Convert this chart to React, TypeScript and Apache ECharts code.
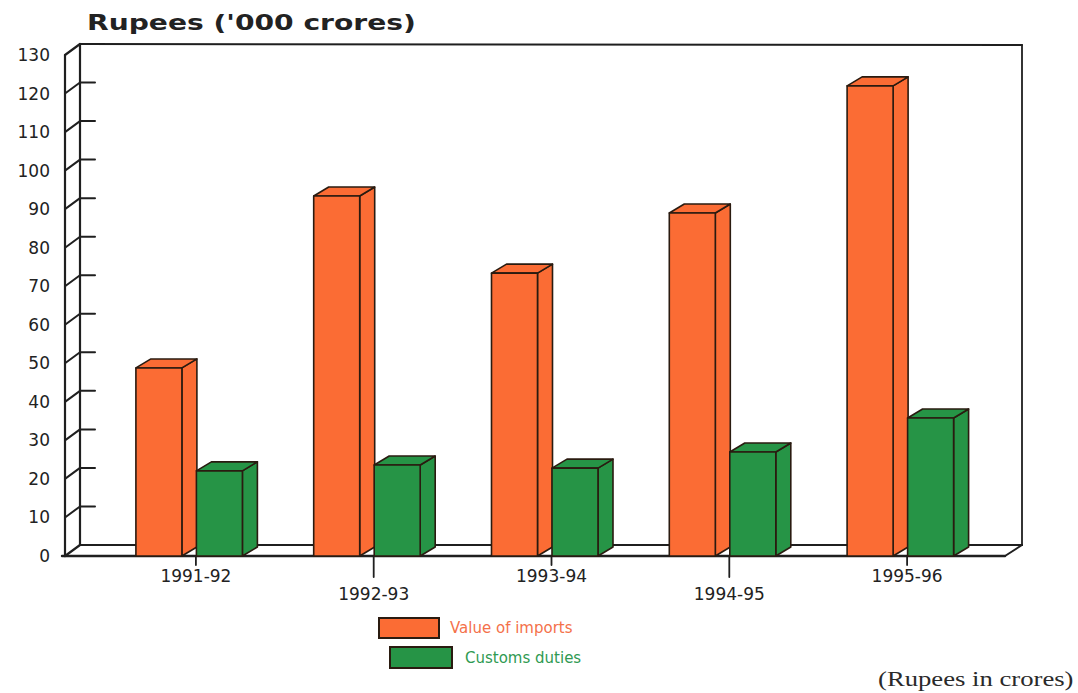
import React, { useEffect, useRef } from "react";
import * as echarts from "echarts";

// Fiscal years on the category axis
const years = ["1991-92", "1992-93", "1993-94", "1994-95", "1995-96"];
// Rupees, '000 crores
const importsValue = [48.8, 93.4, 73.4, 89.0, 122.0];
const customsDuties = [22.1, 23.6, 22.8, 27.0, 35.8];
const yTicks = [0, 10, 20, 30, 40, 50, 60, 70, 80, 90, 100, 110, 120, 130];

const ORANGE = "#fb6c34";
const GREEN = "#269446";
const EDGE = "#2a1b10";
const FRAME = "#1f1f1f";

// depth of the 3D effect (pixels)
const BAR_DX = 15;
const BAR_DY = -9;
const WALL_DX = 15;
const WALL_DY = -11;

function makeBarRenderer(offsetFrac: number, widthFrac: number, color: string) {
  return (params: any, api: any) => {
    const cat = api.value(0);
    const val = api.value(1);
    const base = api.coord([cat, 0]);
    const top = api.coord([cat, val]);
    const band = api.size([1, 0])[0];
    const x0 = base[0] + offsetFrac * band;
    const w = widthFrac * band;
    const yb = base[1];
    const yt = top[1];
    const style = { fill: color, stroke: EDGE, lineWidth: 1.6, lineJoin: "round" };
    return {
      type: "group",
      children: [
        {
          type: "polygon",
          shape: {
            points: [
              [x0 + w, yt],
              [x0 + w + BAR_DX, yt + BAR_DY],
              [x0 + w + BAR_DX, yb + BAR_DY],
              [x0 + w, yb],
            ],
          },
          style,
        },
        {
          type: "polygon",
          shape: {
            points: [
              [x0, yt],
              [x0 + BAR_DX, yt + BAR_DY],
              [x0 + w + BAR_DX, yt + BAR_DY],
              [x0 + w, yt],
            ],
          },
          style,
        },
        {
          type: "rect",
          shape: { x: x0, y: yt, width: w, height: yb - yt },
          style,
        },
      ],
    };
  };
}

// back wall, left wall, floor and tick marks of the 3D frame
function renderFrame(params: any, api: any) {
  const cs = params.coordSys;
  const fx = cs.x - 42; // front edge of the left wall
  const bx = fx + WALL_DX; // back edge of the left wall
  const y0 = api.coord([0, 0])[1];
  const yTop = api.coord([0, yTicks[yTicks.length - 1]])[1];
  const rightFront = cs.x + cs.width + 9;
  const rightBack = rightFront + WALL_DX + 2;
  const line = (x1: number, y1: number, x2: number, y2: number, lw = 2) => ({
    type: "line",
    shape: { x1, y1, x2, y2 },
    style: { stroke: FRAME, lineWidth: lw, lineCap: "round" },
  });
  const children: any[] = [
    // back wall outline
    line(bx, yTop + WALL_DY, rightBack, yTop + WALL_DY + 1, 2),
    line(rightBack, yTop + WALL_DY + 1, rightBack, y0 + WALL_DY, 1.8),
    // left wall
    line(fx, y0, fx, yTop, 2.2),
    line(bx, y0 + WALL_DY, bx, yTop + WALL_DY, 2.2),
    line(fx, yTop, bx, yTop + WALL_DY, 2.2),
    // floor
    line(fx - 3, y0, rightFront, y0, 2.4),
    line(bx, y0 + WALL_DY, rightBack, y0 + WALL_DY, 2.2),
    line(fx, y0, bx, y0 + WALL_DY, 2.2),
    line(rightFront, y0, rightBack, y0 + WALL_DY, 2),
  ];
  for (let i = 1; i < yTicks.length - 1; i++) {
    const y = api.coord([0, yTicks[i]])[1];
    children.push(line(fx, y, bx, y + WALL_DY, 2));
    children.push(line(bx, y + WALL_DY, bx + 15, y + WALL_DY, 2));
  }
  for (let k = 0; k < years.length; k++) {
    const p = api.coord([k, 0]);
    children.push(line(p[0], p[1], p[0], p[1] + (k % 2 ? 21 : 9), 1.8));
  }
  return { type: "group", children };
}

export default function App() {
  const ref = useRef<HTMLDivElement>(null);

  useEffect(() => {
    if (!ref.current) return;
    const chart = echarts.init(ref.current, null, { renderer: "svg" });
    const font = "DejaVu Sans";
    chart.setOption({
      animation: false,
      backgroundColor: "#ffffff",
      graphic: [
        {
          type: "text",
          x: 87,
          y: 23,
          scaleX: 1.34,
          style: {
            text: "Rupees ('000 crores)",
            fontFamily: font,
            fontSize: 21,
            fontWeight: "bold",
            fill: "#222",
            verticalAlign: "middle",
          },
        },
        {
          type: "text",
          x: 878,
          y: 679,
          scaleX: 1.27,
          style: {
            text: "(Rupees in crores)",
            fontFamily: "Liberation Serif",
            fontSize: 21,
            fill: "#2a2a2a",
            verticalAlign: "middle",
          },
        },
      ],
      legend: [
        {
          data: ["Value of imports"],
          left: 373,
          top: 612,
          icon: "rect",
          itemWidth: 60,
          itemHeight: 20,
          itemGap: 0,
          itemStyle: { borderColor: EDGE, borderWidth: 2 },
          textStyle: { fontFamily: font, fontSize: 15, color: "#f4714a", padding: [0, 0, 0, 6] },
          selectedMode: false,
        },
        {
          data: ["Customs duties"],
          left: 384,
          top: 641,
          icon: "rect",
          itemWidth: 62,
          itemHeight: 21,
          itemGap: 0,
          itemStyle: { borderColor: EDGE, borderWidth: 2 },
          textStyle: { fontFamily: font, fontSize: 15, color: "#2f9a52", padding: [0, 0, 0, 8] },
          selectedMode: false,
        },
      ],
      grid: { left: 107, right: 82, top: 55, bottom: 137 },
      xAxis: {
        type: "category",
        data: years,
        axisLine: { show: false },
        axisTick: { show: false },
        axisLabel: {
          margin: 11,
          fontFamily: font,
          fontSize: 17,
          lineHeight: 18,
          color: "#222",
          verticalAlign: "top",
          formatter: (v: string, i: number) => (i % 2 ? "\n" + v : v),
        },
      },
      yAxis: {
        type: "value",
        min: 0,
        max: 130,
        interval: 10,
        axisLine: { show: false },
        axisTick: { show: false },
        splitLine: { show: false },
        axisLabel: { margin: 57, fontFamily: font, fontSize: 17, color: "#222" },
      },
      series: [
        {
          type: "custom",
          name: "frame",
          data: [[0, 0]],
          renderItem: renderFrame,
          silent: true,
          z: 1,
        },
        {
          type: "custom",
          name: "Value of imports",
          color: ORANGE,
          itemStyle: { color: ORANGE },
          data: importsValue.map((v, i) => [i, v]),
          renderItem: makeBarRenderer(-60 / 177.8, 46 / 177.8, ORANGE),
          z: 2,
        },
        {
          type: "custom",
          name: "Customs duties",
          color: GREEN,
          itemStyle: { color: GREEN },
          data: customsDuties.map((v, i) => [i, v]),
          renderItem: makeBarRenderer(0.5 / 177.8, 46 / 177.8, GREEN),
          z: 3,
        },
      ],
    });
    return () => chart.dispose();
  }, []);

  return (
    <div
      ref={ref}
      style={{ position: "fixed", left: 0, top: 0, width: 1078, height: 693, background: "#fff" }}
    />
  );
}
